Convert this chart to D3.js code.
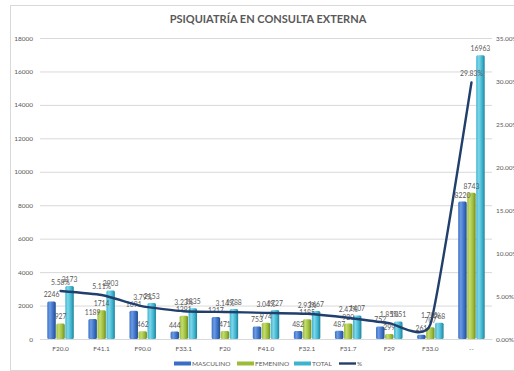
<!DOCTYPE html>
<html>
<head>
<meta charset="utf-8">
<script src="https://cdn.jsdelivr.net/npm/d3@7"></script>
<style>
  html, body { margin: 0; padding: 0; background: #fff; }
  svg { display: block; }
  text { font-family: Lato, "Open Sans", sans-serif; fill: #595959; }
</style>
</head>
<body>
<svg id="chart" width="514" height="371"></svg>
<script>
// Diagnoses (categories)
const categories = ["F20.0", "F41.1", "F90.0", "F33.1", "F20", "F41.0", "F32.1", "F31.7", "F29", "F33.0", "--"];
// Consultations by sex
const masculino = [2246, 1189, 1691, 444, 1317, 753, 482, 487, 752, 261, 8220];
const femenino  = [927, 1714, 462, 1391, 471, 974, 1185, 920, 299, 707, 8743];
const total     = [3173, 2903, 2153, 1835, 1788, 1727, 1667, 1407, 1051, 968, 16963];
// Share of all consultations (%)
const porcentaje = [5.58, 5.11, 3.79, 3.23, 3.14, 3.04, 2.93, 2.47, 1.85, 1.70, 29.83];
// Axis ticks
const leftTicks = [0, 2000, 4000, 6000, 8000, 10000, 12000, 14000, 16000, 18000];
const rightTicks = [0, 5, 10, 15, 20, 25, 30, 35];

const seriesNames = ["MASCULINO", "FEMENINO", "TOTAL"];
const seriesData = [masculino, femenino, total];
const seriesColors = [
  { light: "#6b9be0", mid: "#3a6ec6", dark: "#224d8c" },
  { light: "#c4dc6e", mid: "#9bbb3b", dark: "#6f8a22" },
  { light: "#7fd6e8", mid: "#3db4cf", dark: "#1f8198" }
];
const lineColor = "#213f6c";

const svg = d3.select("#chart");
const defs = svg.append("defs");
seriesColors.forEach((c, i) => {
  const g = defs.append("linearGradient").attr("id", "grad" + i)
    .attr("x1", "0").attr("x2", "1").attr("y1", "0").attr("y2", "0");
  g.append("stop").attr("offset", "0").attr("stop-color", c.mid);
  g.append("stop").attr("offset", "0.3").attr("stop-color", c.light);
  g.append("stop").attr("offset", "0.7").attr("stop-color", c.mid);
  g.append("stop").attr("offset", "1").attr("stop-color", c.dark);
});

// Chart frame
svg.append("rect").attr("x", 10.5).attr("y", 5.5).attr("width", 520).attr("height", 365)
  .attr("fill", "#fff").attr("stroke", "#d9d9d9");

const plot = { left: 40, right: 492, top: 38, bottom: 339 };

const x = d3.scaleBand().domain(categories).range([plot.left, plot.right]);
const step = 9;
const x1 = d3.scaleBand().domain(seriesNames)
  .range([x.bandwidth() / 2 - 1.5 * step, x.bandwidth() / 2 + 1.5 * step])
  .paddingInner(0.06).paddingOuter(0.03);
const y = d3.scaleLinear().domain([0, 18000]).range([plot.bottom, plot.top]);
const y2 = d3.scaleLinear().domain([0, 35]).range([plot.bottom, plot.top]);

const tickFont = "6.5px";

// Title
svg.append("text").attr("x", 268).attr("y", 23).attr("text-anchor", "middle")
  .style("font-size", "11px").style("font-weight", "bold")
  .text("PSIQUIATRÍA EN CONSULTA EXTERNA");

// Gridlines
svg.append("g")
  .attr("transform", `translate(${plot.left},0)`)
  .call(d3.axisLeft(y).tickValues(leftTicks).tickSize(-(plot.right - plot.left)).tickFormat(""))
  .call(g => g.select(".domain").remove())
  .call(g => g.selectAll("line").attr("stroke", "#d9d9d9"));

// Left axis
svg.append("g")
  .attr("transform", `translate(${plot.left},0)`)
  .call(d3.axisLeft(y).tickValues(leftTicks).tickSize(0).tickPadding(7).tickFormat(d3.format("d")))
  .call(g => g.select(".domain").remove())
  .call(g => g.selectAll("text").style("font-size", tickFont).style("fill", "#595959")
    .style("font-family", "Lato, sans-serif"));

// Right axis
svg.append("g")
  .attr("transform", `translate(${plot.right},0)`)
  .call(d3.axisRight(y2).tickValues(rightTicks).tickSize(0).tickPadding(4).tickFormat(d => d.toFixed(2) + "%"))
  .call(g => g.select(".domain").remove())
  .call(g => g.selectAll("text").style("font-size", tickFont).style("fill", "#595959")
    .style("font-family", "Lato, sans-serif"));

// Bottom axis
svg.append("g")
  .attr("transform", `translate(0,${plot.bottom})`)
  .call(d3.axisBottom(x).tickSize(0).tickPadding(7))
  .call(g => g.select(".domain").attr("stroke", "#d9d9d9"))
  .call(g => g.selectAll("text").style("font-size", tickFont).style("fill", "#595959")
    .style("font-family", "Lato, sans-serif"));

// Bars
const groups = svg.append("g").selectAll("g").data(categories).join("g")
  .attr("transform", d => `translate(${x(d)},0)`);
seriesNames.forEach((s, si) => {
  groups.append("rect")
    .attr("x", x1(s)).attr("width", x1.bandwidth())
    .attr("y", (d, i) => y(seriesData[si][i]))
    .attr("height", (d, i) => plot.bottom - y(seriesData[si][i]))
    .attr("rx", 1.5)
    .attr("fill", `url(#grad${si})`);
});

// Bar value labels
seriesNames.forEach((s, si) => {
  groups.append("text")
    .attr("x", x1(s) + x1.bandwidth() / 2)
    .attr("y", (d, i) => y(seriesData[si][i]) - 4)
    .attr("text-anchor", "middle")
    .style("font-size", "6.8px")
    .text((d, i) => seriesData[si][i]);
});

// Percentage line
const cx = d => x(d) + x.bandwidth() / 2;
const line = d3.line()
  .x((d, i) => cx(categories[i]))
  .y(d => y2(d))
  .curve(d3.curveCardinal.tension(0.55));
svg.append("path").datum(porcentaje)
  .attr("d", line)
  .attr("fill", "none").attr("stroke", lineColor).attr("stroke-width", 2.4)
  .attr("stroke-linecap", "round");

svg.append("g").selectAll("text").data(porcentaje).join("text")
  .attr("x", (d, i) => cx(categories[i]))
  .attr("y", d => y2(d) - 6)
  .attr("text-anchor", "middle")
  .style("font-size", "6.8px")
  .text(d => d.toFixed(2) + "%");

// Legend
const legendItems = [
  { name: "MASCULINO", type: "bar", i: 0, x: 174 },
  { name: "FEMENINO", type: "bar", i: 1, x: 237 },
  { name: "TOTAL", type: "bar", i: 2, x: 294 },
  { name: "%", type: "line", x: 339 }
];
const legY = 364;
const leg = svg.append("g").selectAll("g").data(legendItems).join("g")
  .attr("transform", d => `translate(${d.x},${legY})`);
leg.filter(d => d.type === "bar").append("rect")
  .attr("x", 0).attr("y", -2.5).attr("width", 17).attr("height", 4)
  .attr("fill", d => seriesColors[d.i].mid);
leg.filter(d => d.type === "line").append("line")
  .attr("x1", 0).attr("x2", 17).attr("y1", -0.5).attr("y2", -0.5)
  .attr("stroke", lineColor).attr("stroke-width", 2.4);
leg.append("text").attr("x", 18).attr("y", 2)
  .style("font-size", tickFont).text(d => d.name);
</script>
</body>
</html>
